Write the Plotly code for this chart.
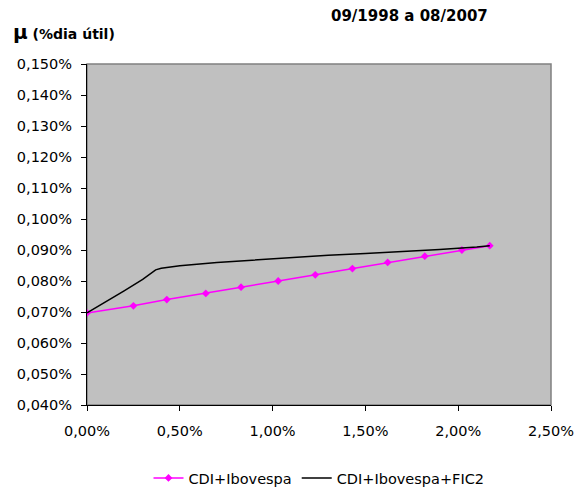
import plotly.graph_objects as go

# CDI+Ibovespa (x: sigma %/dia útil, y: mu %/dia útil)
cdi_ibov_x = [0.0, 0.25, 0.43, 0.64, 0.83, 1.03, 1.23, 1.43, 1.62, 1.82, 2.02, 2.17]
cdi_ibov_y = [0.0697, 0.0720, 0.0740, 0.0760, 0.0780, 0.0800, 0.0820, 0.0840, 0.0860, 0.0880, 0.0900, 0.0914]

# CDI+Ibovespa+FIC2
fic2_x = [0.0, 0.10, 0.20, 0.30, 0.34, 0.37, 0.40, 0.50, 0.70, 0.90, 1.10, 1.30, 1.50, 1.70, 1.90, 2.10, 2.17]
fic2_y = [0.0697, 0.0732, 0.0768, 0.0805, 0.0822, 0.0836, 0.0841, 0.0849, 0.0860, 0.0868, 0.0875, 0.0883, 0.0889, 0.0895, 0.0902, 0.0910, 0.0914]

x_ticks = [0.0, 0.5, 1.0, 1.5, 2.0, 2.5]
x_ticktext = ["0,00%", "0,50%", "1,00%", "1,50%", "2,00%", "2,50%"]
y_ticks = [0.040, 0.050, 0.060, 0.070, 0.080, 0.090, 0.100, 0.110, 0.120, 0.130, 0.140, 0.150]
y_ticktext = ["0,040%", "0,050%", "0,060%", "0,070%", "0,080%", "0,090%",
              "0,100%", "0,110%", "0,120%", "0,130%", "0,140%", "0,150%"]

font = "DejaVu Sans, Arial, sans-serif"

fig = go.Figure()
fig.add_trace(go.Scatter(
    x=cdi_ibov_x, y=cdi_ibov_y, name="CDI+Ibovespa", mode="lines+markers",
    line=dict(color="#FF00FF", width=1.5),
    marker=dict(symbol="diamond", size=6, color="#FF00FF"),
))
fig.add_trace(go.Scatter(
    x=fic2_x, y=fic2_y, name="CDI+Ibovespa+FIC2", mode="lines",
    line=dict(color="#000000", width=1.5),
))

fig.update_layout(
    width=580, height=493,
    margin=dict(l=87, r=29, t=64, b=88, autoexpand=False),
    paper_bgcolor="white",
    plot_bgcolor="#C0C0C0",
    font=dict(family=font, size=14.5, color="black"),
    showlegend=True,
    legend=dict(orientation="h", x=0.5, xanchor="center", y=-0.214, yanchor="middle",
                font=dict(size=14.5), bgcolor="rgba(0,0,0,0)"),
    xaxis=dict(range=[0, 2.5], tickvals=x_ticks, ticktext=x_ticktext,
               showgrid=False, zeroline=False, showline=True, linecolor="black",
               linewidth=1, ticks="outside", ticklen=5, tickcolor="black",
               ticklabelstandoff=8),
    yaxis=dict(range=[0.040, 0.150], tickvals=y_ticks, ticktext=y_ticktext,
               showgrid=False, zeroline=False, showline=True, linecolor="black",
               linewidth=1, ticks="outside", ticklen=5, tickcolor="black",
               ticklabelstandoff=6),
    shapes=[dict(type="rect", xref="paper", yref="paper", x0=0, y0=0, x1=1, y1=1,
                 line=dict(color="#808080", width=1.5), layer="below")],
    annotations=[
        dict(text="<b>09/1998 a 08/2007</b>", xref="paper", yref="paper",
             x=0.694, y=1.0, xanchor="center", yanchor="middle", yshift=48,
             showarrow=False, font=dict(size=15)),
        dict(text="<b><span style='font-size:20px'>μ</span> (%dia útil)</b>",
             xref="paper", yref="paper", x=0, y=1, xanchor="left", yanchor="middle",
             xshift=-76, yshift=32, showarrow=False, font=dict(size=14)),
    ],
)

fig.write_html("out.html")
